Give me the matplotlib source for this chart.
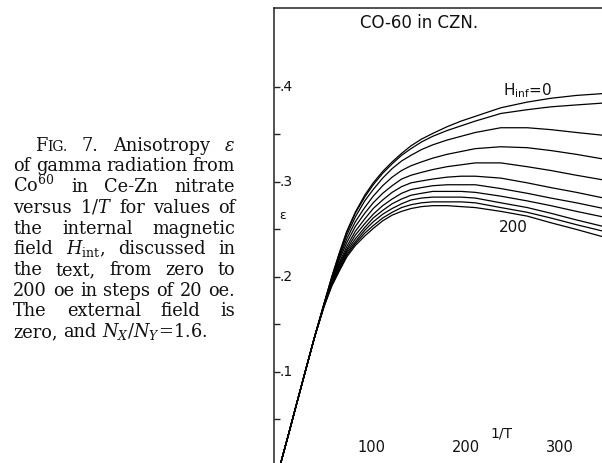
import matplotlib
matplotlib.use('Agg')
import matplotlib.pyplot as plt

plt.rcParams['mathtext.fontset'] = 'dejavuserif'

# ---------------- data ----------------
h_int = [0, 20, 40, 60, 80, 100, 120, 140, 160, 180, 200]

# common low-1/T trunk shared by all curves
trunk_x = [3, 12, 20, 27, 34, 40]
trunk_eps = [0.000, 0.033, 0.063, 0.089, 0.115, 0.137]

# 1/T values where the curves fan out
branch_x = [50, 58, 66, 74, 83, 93, 102, 112, 122, 132, 142, 153, 165, 180,
            195, 210, 237, 265, 290, 317, 346]

eps_H0 = [0.172, 0.200, 0.225, 0.248, 0.268, 0.286, 0.299, 0.311, 0.321, 0.330, 0.338,
          0.345, 0.351, 0.358, 0.364, 0.369, 0.378, 0.384, 0.388, 0.391, 0.393]
eps_H20 = [0.172, 0.199, 0.224, 0.247, 0.267, 0.284, 0.297, 0.309, 0.319, 0.328, 0.335,
           0.342, 0.348, 0.354, 0.359, 0.364, 0.372, 0.376, 0.379, 0.381, 0.383]
eps_H40 = [0.172, 0.198, 0.222, 0.244, 0.263, 0.280, 0.292, 0.304, 0.314, 0.322, 0.328,
           0.334, 0.339, 0.344, 0.348, 0.352, 0.357, 0.357, 0.355, 0.352, 0.349]
eps_H60 = [0.171, 0.197, 0.220, 0.240, 0.258, 0.273, 0.285, 0.296, 0.305, 0.312, 0.317,
           0.321, 0.325, 0.329, 0.332, 0.335, 0.337, 0.336, 0.333, 0.329, 0.324]
eps_H80 = [0.171, 0.196, 0.218, 0.236, 0.253, 0.267, 0.278, 0.288, 0.296, 0.303, 0.307,
           0.310, 0.313, 0.316, 0.318, 0.320, 0.320, 0.316, 0.312, 0.307, 0.302]
eps_H100 = [0.171, 0.195, 0.215, 0.232, 0.248, 0.261, 0.272, 0.281, 0.289, 0.295, 0.299,
            0.301, 0.303, 0.305, 0.306, 0.306, 0.304, 0.299, 0.294, 0.289, 0.283]
eps_H120 = [0.170, 0.194, 0.213, 0.229, 0.244, 0.256, 0.266, 0.275, 0.282, 0.288, 0.292,
            0.294, 0.296, 0.297, 0.297, 0.297, 0.293, 0.288, 0.283, 0.278, 0.272]
eps_H140 = [0.170, 0.193, 0.211, 0.227, 0.240, 0.252, 0.262, 0.270, 0.277, 0.282, 0.286,
            0.288, 0.290, 0.290, 0.290, 0.289, 0.285, 0.280, 0.275, 0.269, 0.263]
eps_H160 = [0.170, 0.192, 0.209, 0.225, 0.237, 0.249, 0.258, 0.266, 0.272, 0.277, 0.281,
            0.283, 0.284, 0.284, 0.284, 0.283, 0.278, 0.273, 0.267, 0.260, 0.253]
eps_H180 = [0.169, 0.191, 0.207, 0.223, 0.235, 0.246, 0.254, 0.262, 0.268, 0.273, 0.276,
            0.278, 0.279, 0.279, 0.279, 0.278, 0.273, 0.268, 0.262, 0.255, 0.248]
eps_H200 = [0.169, 0.190, 0.206, 0.221, 0.233, 0.243, 0.251, 0.259, 0.265, 0.269, 0.272,
            0.274, 0.275, 0.275, 0.274, 0.273, 0.269, 0.264, 0.257, 0.250, 0.242]

curves = [eps_H0, eps_H20, eps_H40, eps_H60, eps_H80, eps_H100,
          eps_H120, eps_H140, eps_H160, eps_H180, eps_H200]

y_ticks = [0.1, 0.2, 0.3, 0.4]
y_tick_labels = ['.1', '.2', '.3', '.4']
y_minor = [0.05, 0.15, 0.25, 0.35]
x_ticks = [100, 200, 300]
x_tick_labels = ['100', '200', '300']

# each word is a list of (text, relative size) pieces
caption_lines = [
    [[("F", 1.0), ("IG.", 0.78)], [("7.", 1)], [("Anisotropy", 1)], [(r"$\epsilon$", 1)]],
    [[("of", 1)], [("gamma", 1)], [("radiation", 1)], [("from", 1)]],
    [[(r"Co$^{60}$", 1)], [("in", 1)], [("Ce-Zn", 1)], [("nitrate", 1)]],
    [[("versus", 1)], [(r"$1/T$", 1)], [("for", 1)], [("values", 1)], [("of", 1)]],
    [[("the", 1)], [("internal", 1)], [("magnetic", 1)]],
    [[("field", 1)], [(r"$H_{\rm int}$,", 1)], [("discussed", 1)], [("in", 1)]],
    [[("the", 1)], [("text,", 1)], [("from", 1)], [("zero", 1)], [("to", 1)]],
    [[("200", 1)], [("oe", 1)], [("in", 1)], [("steps", 1)], [("of", 1)], [("20", 1)], [("oe.", 1)]],
    [[("The", 1)], [("external", 1)], [("field", 1)], [("is", 1)]],
    [[("zero,", 1)], [("and", 1)], [(r"$N_X/N_Y\!=\!1.6.$", 1)]],
]

# ---------------- figure ----------------
W, H = 602, 463
fig = plt.figure(figsize=(W / 100, H / 100), dpi=100)
fig.patch.set_facecolor('white')

ax = fig.add_axes([274 / W, -0.02916, 0.5698, 1.01188])
ax.set_xlim(-3, 360)
ax.set_ylim(-0.01, 0.483)
ax.set_facecolor('white')

for eps in curves:
    ax.plot(trunk_x + branch_x, trunk_eps + eps, color='black', lw=0.9,
            solid_capstyle='round', solid_joinstyle='round')

for side in ['right', 'bottom']:
    ax.spines[side].set_visible(False)
for side in ['left', 'top']:
    ax.spines[side].set_linewidth(1.1)
    ax.spines[side].set_color('#222222')

ax.set_yticks(y_ticks)
ax.set_yticks(y_minor, minor=True)
ax.set_xticks([])
ax.tick_params(axis='y', which='both', direction='in', length=4, width=1,
               color='#222222', labelleft=False)

for v, lab in zip(y_ticks, y_tick_labels):
    ax.text(2.3, v, lab, ha='left', va='center', fontsize=10, color='#111111')
for v, lab in zip(x_ticks, x_tick_labels):
    ax.text(v, 0.021, lab, ha='center', va='center', fontsize=10.5, color='#111111')

ax.text(6.5, 0.265, '\u03b5', ha='center', va='center', fontsize=9, color='#111111')
ax.text(238, 0.035, '1/T', ha='center', va='center', fontsize=10, color='#111111')
ax.text(88, 0.467, 'CO-60 in CZN.', ha='left', va='center', fontsize=12,
        color='#111111')
ax.text(239, 0.3905, r'H$_{\mathsf{inf}}$=0', ha='left', va='baseline', fontsize=11,
        color='#111111')
ax.text(250, 0.252, '200', ha='center', va='center', fontsize=11, color='#111111')

# ---------------- justified caption ----------------
renderer = fig.canvas.get_renderer()
base0 = 150.7
dy = 20.7
cap_size = 12.8
for i, words in enumerate(caption_lines):
    yb = base0 + i * dy
    left = 35.0 if i == 0 else 13.3
    right = 235.0
    word_objs = []
    for w in words:
        pieces = []
        for txt, rel in w:
            t = fig.text(0, 1 - yb / H, txt, fontsize=cap_size * rel,
                         family='DejaVu Serif', ha='left', va='baseline',
                         color='#111111')
            pieces.append((t, t.get_window_extent(renderer=renderer).width))
        word_objs.append(pieces)
    widths = [sum(p[1] for p in pcs) for pcs in word_objs]
    if i == len(caption_lines) - 1:
        gap = 0.3 * cap_size * 100 / 72
    else:
        gap = (right - left - sum(widths)) / (len(words) - 1)
    x = left
    for pcs, wd in zip(word_objs, widths):
        xx = x
        for t, pw in pcs:
            t.set_x(xx / W)
            xx += pw
        x += wd + gap

fig.savefig('out.png', dpi=100, facecolor='white')
